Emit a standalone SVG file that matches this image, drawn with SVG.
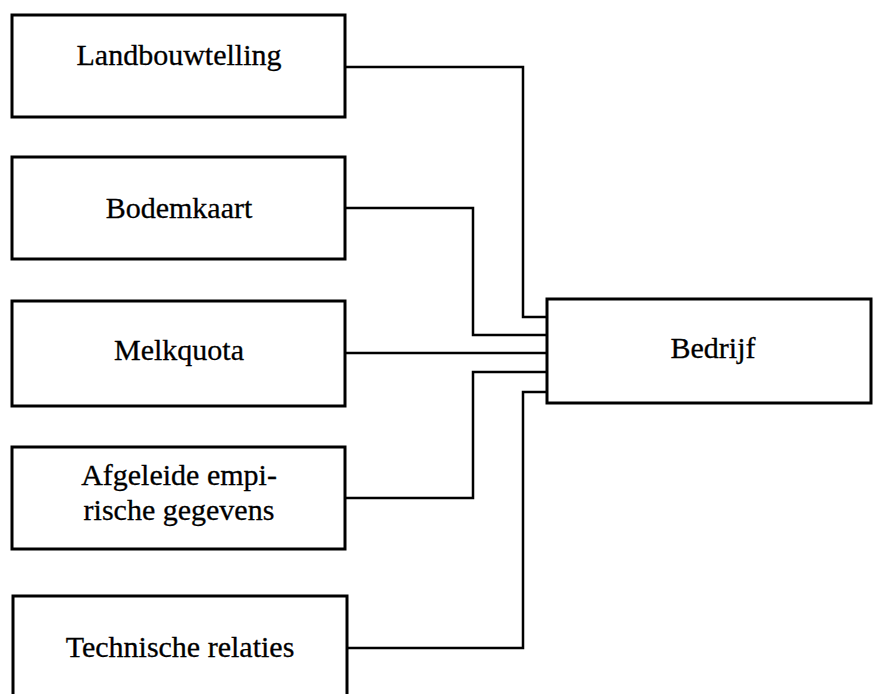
<svg xmlns="http://www.w3.org/2000/svg" width="873" height="694" viewBox="0 0 873 694">
<style>
.box{fill:#fff;stroke:#000;stroke-width:3}
.lbl{font-family:"Liberation Serif","Times New Roman",serif;font-size:30px;fill:#000;text-anchor:middle;stroke:#000;stroke-width:0.3}
.con{fill:none;stroke:#000;stroke-width:2.5}
</style>
<rect width="873" height="694" fill="#fff"/>
<g id="connectors">
<polyline class="con" points="345,67 523,67 523,317 547,317"/>
<polyline class="con" points="345,208 473,208 473,335 547,335"/>
<polyline class="con" points="345,353 547,353"/>
<polyline class="con" points="345,498 473,498 473,372 547,372"/>
<polyline class="con" points="347,648 523,648 523,392 547,392"/>
</g>
<g id="landbouwtelling">
<rect class="box" x="12" y="15" width="333" height="102"/>
<text class="lbl" x="179" y="65">Landbouwtelling</text>
</g>
<g id="bodemkaart">
<rect class="box" x="12" y="157" width="333" height="102"/>
<text class="lbl" x="179" y="218">Bodemkaart</text>
</g>
<g id="melkquota">
<rect class="box" x="12" y="301" width="333" height="105"/>
<text class="lbl" x="179" y="360">Melkquota</text>
</g>
<g id="afgeleide">
<rect class="box" x="12" y="447" width="333" height="102"/>
<text class="lbl" x="179" y="485">Afgeleide empi-</text>
<text class="lbl" x="179" y="520">rische gegevens</text>
</g>
<g id="technische">
<rect class="box" x="13" y="596" width="334" height="110"/>
<text class="lbl" x="180" y="657">Technische relaties</text>
</g>
<g id="bedrijf">
<rect class="box" x="547" y="299" width="324" height="104"/>
<text class="lbl" x="713" y="358">Bedrijf</text>
</g>
</svg>
